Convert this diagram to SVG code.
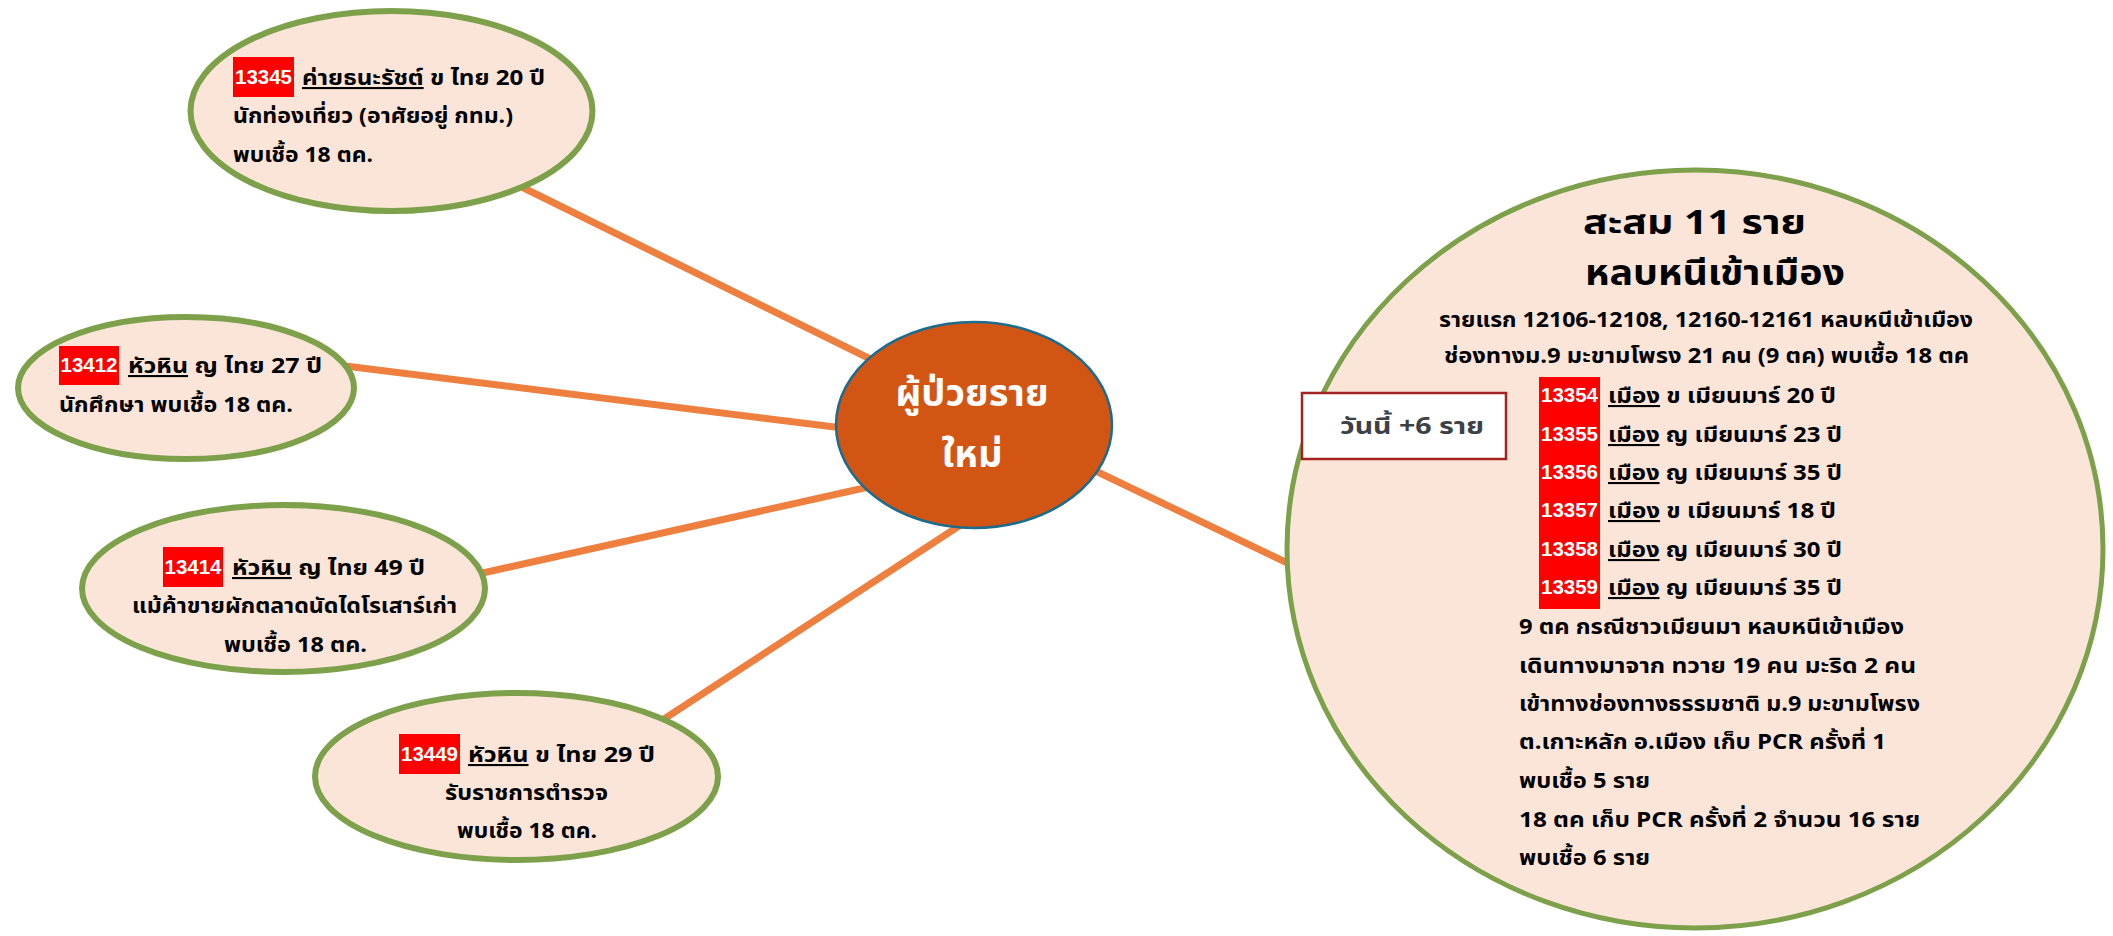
<svg xmlns="http://www.w3.org/2000/svg" width="2113" height="936" viewBox="0 0 2113 936">
<style>
.leaf{fill:#FBE5D8;stroke:#7DA04A;stroke-width:6}
.t{font-family:"Noto Sans Thai","Noto Sans","DejaVu Sans",sans-serif;font-weight:bold;font-size:21px;fill:#000}
.n{font-family:"Liberation Sans","Noto Sans",sans-serif;font-weight:bold;font-size:20.5px;fill:#fff;text-anchor:middle}
.u{text-decoration:underline}
.conn{stroke:#EE7F3E;stroke-width:7;fill:none}
.red{fill:#FF0000}
</style>
<rect width="2113" height="936" fill="#fff"/>
<g id="connectors">
<line class="conn" x1="471" y1="162" x2="921" y2="384"/>
<line class="conn" x1="305" y1="361" x2="883" y2="433"/>
<line class="conn" x1="447" y1="581" x2="900" y2="480"/>
<line class="conn" x1="638" y1="736" x2="988" y2="507"/>
<line class="conn" x1="1079" y1="463" x2="1306" y2="572"/>
</g>
<g id="n13345">
<ellipse class="leaf" cx="391.5" cy="111" rx="201" ry="100"/>
<rect class="red" x="233" y="57" width="61" height="40"/>
<text class="n" x="263.5" y="84">13345</text>
<text class="t" x="302" y="85" textLength="243" lengthAdjust="spacingAndGlyphs"><tspan class="u">ค่ายธนะรัชต์</tspan> ข ไทย 20 ปี</text>
<text class="t" x="233" y="123" textLength="280" lengthAdjust="spacingAndGlyphs">นักท่องเที่ยว (อาศัยอยู่ กทม.)</text>
<text class="t" x="233" y="162" textLength="140" lengthAdjust="spacingAndGlyphs">พบเชื้อ 18 ตค.</text>
</g>
<g id="n13412">
<ellipse class="leaf" cx="186" cy="388" rx="168" ry="71"/>
<rect class="red" x="59" y="346" width="60" height="39"/>
<text class="n" x="89" y="372">13412</text>
<text class="t" x="128" y="373" textLength="194" lengthAdjust="spacingAndGlyphs"><tspan class="u">หัวหิน</tspan> ญ ไทย 27 ปี</text>
<text class="t" x="59" y="412" textLength="234" lengthAdjust="spacingAndGlyphs">นักศึกษา พบเชื้อ 18 ตค.</text>
</g>
<g id="n13414">
<ellipse class="leaf" cx="283.5" cy="588.5" rx="201.5" ry="83.5"/>
<rect class="red" x="163" y="547" width="60" height="40"/>
<text class="n" x="193" y="574">13414</text>
<text class="t" x="232" y="575" textLength="193" lengthAdjust="spacingAndGlyphs"><tspan class="u">หัวหิน</tspan> ญ ไทย 49 ปี</text>
<text class="t" x="132" y="613" textLength="325" lengthAdjust="spacingAndGlyphs">แม้ค้าขายผักตลาดนัดไดโรเสาร์เก่า</text>
<text class="t" x="224" y="652" textLength="143" lengthAdjust="spacingAndGlyphs">พบเชื้อ 18 ตค.</text>
</g>
<g id="n13449">
<ellipse class="leaf" cx="516.5" cy="776.5" rx="201.5" ry="83.5"/>
<rect class="red" x="399" y="734" width="61" height="40"/>
<text class="n" x="429.5" y="761">13449</text>
<text class="t" x="468" y="762" textLength="187" lengthAdjust="spacingAndGlyphs"><tspan class="u">หัวหิน</tspan> ข ไทย 29 ปี</text>
<text class="t" x="445" y="800" textLength="163" lengthAdjust="spacingAndGlyphs">รับราชการตำรวจ</text>
<text class="t" x="457" y="838" textLength="140" lengthAdjust="spacingAndGlyphs">พบเชื้อ 18 ตค.</text>
</g>
<g id="center">
<ellipse cx="974" cy="425" rx="138" ry="103" fill="#D35513" stroke="#1C6C8E" stroke-width="2.5"/>
<text class="t" x="972" y="406" text-anchor="middle" style="font-size:38px;fill:#fff">ผู้ป่วยราย</text>
<text class="t" x="972" y="467" text-anchor="middle" style="font-size:38px;fill:#fff">ใหม่</text>
</g>
<g id="cluster">
<ellipse cx="1695" cy="549" rx="408" ry="379" fill="#FBE5D8" stroke="#7DA04A" stroke-width="5"/>
<text class="t" x="1583" y="234" textLength="223" lengthAdjust="spacingAndGlyphs" style="font-size:34px">สะสม 11 ราย</text>
<text class="t" x="1585" y="285" textLength="260" lengthAdjust="spacingAndGlyphs" style="font-size:36px">หลบหนีเข้าเมือง</text>
<text class="t" x="1439" y="327" textLength="534" lengthAdjust="spacingAndGlyphs">รายแรก 12106-12108, 12160-12161 หลบหนีเข้าเมือง</text>
<text class="t" x="1444" y="363" textLength="525" lengthAdjust="spacingAndGlyphs">ช่องทางม.9 มะขามโพรง 21 คน (9 ตค) พบเชื้อ 18 ตค</text>
<rect class="red" x="1539" y="377" width="61" height="232"/>
<g id="rows">
<text class="n" x="1569.5" y="402">13354</text>
<text class="n" x="1569.5" y="441">13355</text>
<text class="n" x="1569.5" y="479">13356</text>
<text class="n" x="1569.5" y="517">13357</text>
<text class="n" x="1569.5" y="556">13358</text>
<text class="n" x="1569.5" y="594">13359</text>
<text class="t" x="1608" y="403" textLength="228" lengthAdjust="spacingAndGlyphs"><tspan class="u">เมือง</tspan> ข เมียนมาร์ 20 ปี</text>
<text class="t" x="1608" y="442" textLength="234" lengthAdjust="spacingAndGlyphs"><tspan class="u">เมือง</tspan> ญ เมียนมาร์ 23 ปี</text>
<text class="t" x="1608" y="480" textLength="234" lengthAdjust="spacingAndGlyphs"><tspan class="u">เมือง</tspan> ญ เมียนมาร์ 35 ปี</text>
<text class="t" x="1608" y="518" textLength="228" lengthAdjust="spacingAndGlyphs"><tspan class="u">เมือง</tspan> ข เมียนมาร์ 18 ปี</text>
<text class="t" x="1608" y="557" textLength="234" lengthAdjust="spacingAndGlyphs"><tspan class="u">เมือง</tspan> ญ เมียนมาร์ 30 ปี</text>
<text class="t" x="1608" y="595" textLength="234" lengthAdjust="spacingAndGlyphs"><tspan class="u">เมือง</tspan> ญ เมียนมาร์ 35 ปี</text>
</g>
<text class="t" x="1519" y="634" textLength="385" lengthAdjust="spacingAndGlyphs">9 ตค กรณีชาวเมียนมา หลบหนีเข้าเมือง</text>
<text class="t" x="1519" y="673" textLength="397" lengthAdjust="spacingAndGlyphs">เดินทางมาจาก ทวาย 19 คน มะริด 2 คน</text>
<text class="t" x="1519" y="711" textLength="401" lengthAdjust="spacingAndGlyphs">เข้าทางช่องทางธรรมชาติ ม.9 มะขามโพรง</text>
<text class="t" x="1519" y="749" textLength="367" lengthAdjust="spacingAndGlyphs">ต.เกาะหลัก อ.เมือง เก็บ PCR ครั้งที่ 1</text>
<text class="t" x="1519" y="788" textLength="131" lengthAdjust="spacingAndGlyphs">พบเชื้อ 5 ราย</text>
<text class="t" x="1519" y="827" textLength="401" lengthAdjust="spacingAndGlyphs">18 ตค เก็บ PCR ครั้งที่ 2 จำนวน 16 ราย</text>
<text class="t" x="1519" y="865" textLength="131" lengthAdjust="spacingAndGlyphs">พบเชื้อ 6 ราย</text>
</g>
<g id="today">
<rect x="1302" y="393" width="204" height="66" fill="#fff" stroke="#A52222" stroke-width="2.5"/>
<text class="t" x="1340" y="434" textLength="144" lengthAdjust="spacingAndGlyphs" style="font-size:23px;fill:#3B4147">วันนี้ +6 ราย</text>
</g>
</svg>
